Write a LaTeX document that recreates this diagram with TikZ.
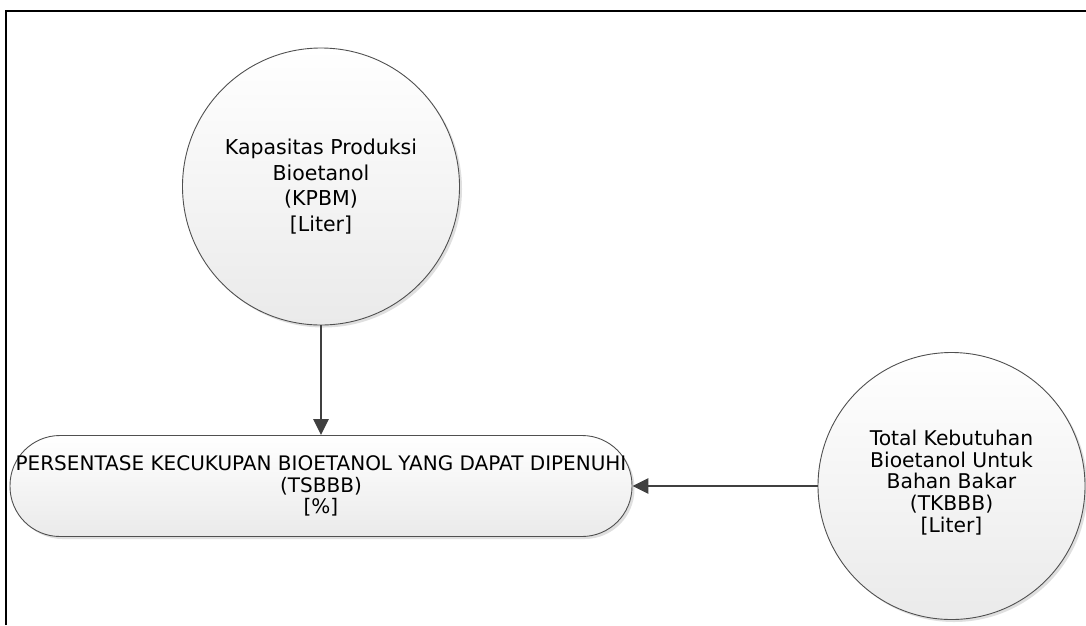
\documentclass[tikz,border=0pt]{standalone}
\usepackage{fontspec}
\setmainfont{DejaVu Sans}
\usetikzlibrary{arrows.meta,shadows}
\definecolor{edgegray}{HTML}{505050}
\definecolor{arrowgray}{HTML}{404040}
\definecolor{fillbot}{HTML}{EAEAEA}
\tikzset{
  shapebase/.style={draw=edgegray, line width=0.9pt, inner sep=0pt,
    top color=white, bottom color=fillbot, align=center,
    drop shadow={shadow xshift=2.5pt, shadow yshift=-2.5pt, fill=black!25, opacity=0.5}},
  varcircle/.style={shapebase, circle},
  stadium/.style={shapebase, rectangle, rounded corners=50pt},
  flow/.style={draw=arrowgray, line width=2.6pt, -{Triangle[length=16pt,width=15pt]}},
  framestyle/.style={draw=black, line width=2.2pt}
}
\begin{document}
\begin{tikzpicture}[x=1pt,y=-1pt]
\useasboundingbox (0,0) rectangle (1086,625);
\draw[framestyle] (6,625) -- (6,11) -- (1086,11);
\node[varcircle, minimum size=277pt, font=\fontsize{20.5}{25.5}\selectfont] (kpbm) at (321,186.5)
  {Kapasitas Produksi\\Bioetanol\\(KPBM)\\{[Liter]}};
\node[stadium, minimum width=622pt, minimum height=101pt, font=\fontsize{20}{21.6}\selectfont] (tsbbb) at (321,486)
  {PERSENTASE KECUKUPAN BIOETANOL YANG DAPAT DIPENUHI\\(TSBBB)\\{[\%]}};
\node[varcircle, minimum size=267pt, font=\fontsize{20.3}{21.6}\selectfont] (tkbbb) at (951.5,486)
  {Total Kebutuhan\\Bioetanol Untuk\\Bahan Bakar\\(TKBBB)\\{[Liter]}\\[-12pt]\mbox{}};
\draw[flow] (kpbm.south) -- (kpbm.south |- tsbbb.north);
\draw[flow] (tkbbb.west) -- (tsbbb.east);
\end{tikzpicture}
\end{document}
